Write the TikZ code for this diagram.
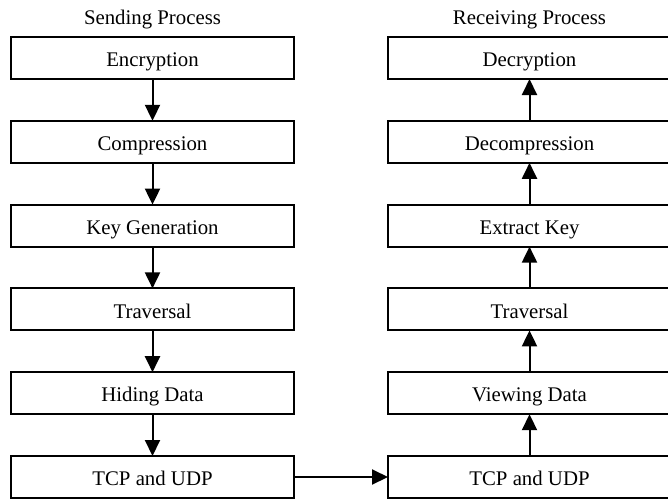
\documentclass[tikz,border=0pt]{standalone}
\usepackage{fontspec}
\setmainfont{Liberation Serif}
\usetikzlibrary{arrows.meta,positioning}

\tikzset{
  stage/.style={draw, line width=2pt, minimum width=283pt, inner xsep=0pt, inner ysep=0pt,
    outer sep=0pt, text height=29.7pt, text depth=12.3pt, font=\fontsize{20.8}{24}\selectfont},
  flow/.style={line width=2pt, -{Triangle[length=16pt,width=15pt]}},
  heading/.style={anchor=base, font=\fontsize{20.8}{24}\selectfont}
}

\begin{document}
\begin{tikzpicture}[x=1pt,y=-1pt]
\useasboundingbox (0,0) rectangle (668,501);

% sending side
\node[heading] (sendtitle) at (152.5,24) {Sending Process};
\node[stage] (enc) at (152.5,58) {Encryption};
\node[stage, below=41.8pt of enc] (comp) {Compression};
\node[stage, below=41.8pt of comp] (keygen) {Key Generation};
\node[stage, below=41.8pt of keygen] (travl) {Traversal};
\node[stage, below=41.8pt of travl] (hide) {Hiding Data};
\node[stage, below=41.8pt of hide] (tcpl) {TCP and UDP};

% receiving side
\node[heading] (recvtitle) at (529.5,24) {Receiving Process};
\node[stage] (dec) at (529.5,58) {Decryption};
\node[stage, below=41.8pt of dec] (decomp) {Decompression};
\node[stage, below=41.8pt of decomp] (extract) {Extract Key};
\node[stage, below=41.8pt of extract] (travr) {Traversal};
\node[stage, below=41.8pt of travr] (view) {Viewing Data};
\node[stage, below=41.8pt of view] (tcpr) {TCP and UDP};

% connectors
\draw[flow] (enc.south) -- (comp.north);
\draw[flow] (comp.south) -- (keygen.north);
\draw[flow] (keygen.south) -- (travl.north);
\draw[flow] (travl.south) -- (hide.north);
\draw[flow] (hide.south) -- (tcpl.north);
\draw[flow] (tcpl.east) -- (tcpr.west);
\draw[flow] (tcpr.north) -- (view.south);
\draw[flow] (view.north) -- (travr.south);
\draw[flow] (travr.north) -- (extract.south);
\draw[flow] (extract.north) -- (decomp.south);
\draw[flow] (decomp.north) -- (dec.south);

\end{tikzpicture}
\end{document}
